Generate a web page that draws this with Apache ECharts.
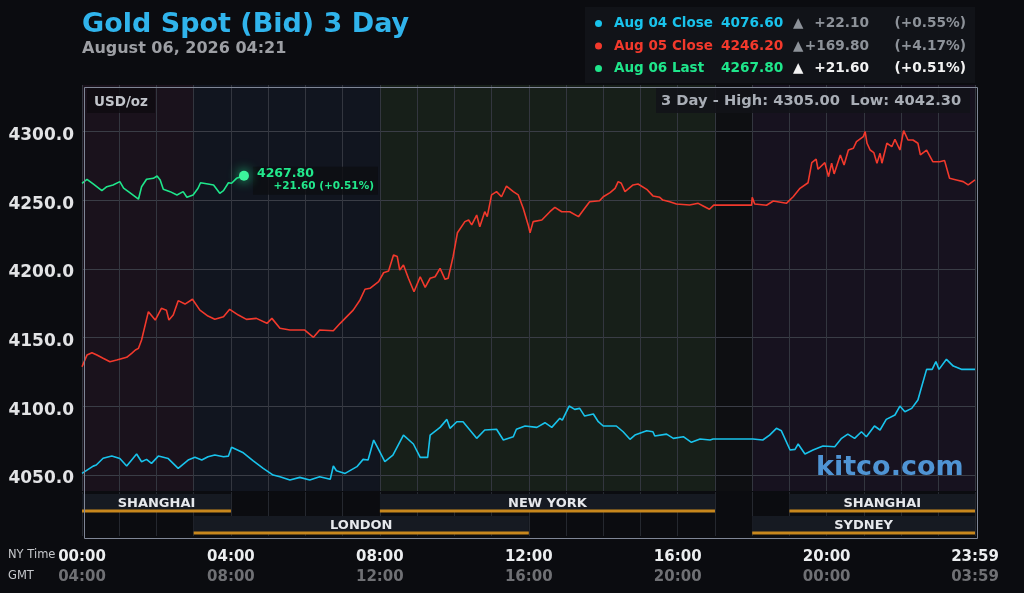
<!DOCTYPE html>
<html>
<head>
<meta charset="utf-8">
<title>Gold Spot (Bid) 3 Day</title>
<script src="https://cdn.jsdelivr.net/npm/echarts@6.0.0/dist/echarts.min.js"></script>
<style>
  html, body { margin: 0; padding: 0; background: #0b0c10; }
  #chart { width: 1024px; height: 593px; }
</style>
</head>
<body>
<div id="chart"></div>
<script>
// --- data (minutes after NY midnight, USD/oz) ---
const cyanMin = [0, 18, 23, 34, 48, 61, 72, 88, 96, 104, 112, 123, 139, 155, 171, 182, 193, 203, 214, 228, 236, 241, 260, 276, 292, 308, 319, 335, 351, 367, 383, 400, 405, 410, 424, 443, 453, 461, 470, 477, 488, 501, 518, 534, 545, 557, 561, 577, 588, 593, 604, 614, 625, 636, 649, 668, 679, 695, 700, 714, 733, 746, 757, 770, 774, 785, 794, 802, 810, 824, 832, 840, 861, 872, 883, 891, 910, 920, 923, 942, 953, 969, 982, 996, 1012, 1017, 1081, 1097, 1108, 1119, 1127, 1141, 1149, 1154, 1165, 1178, 1194, 1213, 1224, 1234, 1245, 1256, 1264, 1277, 1286, 1296, 1310, 1318, 1326, 1337, 1347, 1353, 1361, 1370, 1376, 1381, 1393, 1404, 1417, 1439];
const cyanVal = [4051.2, 4056.5, 4057.3, 4062.2, 4063.8, 4062.0, 4056.6, 4065.3, 4059.7, 4061.4, 4058.5, 4063.8, 4062.0, 4054.9, 4060.9, 4062.9, 4060.9, 4063.3, 4064.6, 4063.3, 4063.8, 4070.2, 4066.2, 4060.4, 4054.9, 4050.0, 4048.8, 4046.4, 4048.3, 4046.4, 4048.8, 4046.9, 4056.6, 4053.1, 4051.2, 4056.1, 4061.4, 4060.9, 4075.5, 4069.4, 4059.7, 4064.5, 4079.1, 4072.6, 4062.9, 4062.9, 4079.1, 4084.7, 4090.5, 4084.0, 4088.8, 4088.8, 4082.8, 4076.7, 4082.8, 4083.3, 4075.5, 4077.9, 4083.3, 4085.7, 4084.7, 4088.1, 4084.7, 4091.3, 4090.0, 4100.2, 4097.8, 4098.5, 4092.9, 4094.4, 4088.8, 4085.7, 4085.7, 4081.5, 4076.0, 4079.1, 4082.2, 4081.5, 4078.4, 4079.8, 4076.7, 4077.9, 4073.8, 4076.2, 4075.5, 4076.2, 4076.2, 4075.5, 4079.1, 4084.0, 4082.2, 4068.2, 4068.7, 4072.6, 4065.3, 4068.2, 4071.1, 4070.6, 4076.7, 4079.8, 4076.7, 4081.5, 4077.9, 4085.7, 4082.8, 4090.5, 4093.7, 4100.2, 4096.1, 4098.5, 4104.6, 4114.3, 4126.9, 4126.9, 4132.5, 4126.9, 4134.2, 4129.3, 4126.9, 4126.9];

const redMin = [0, 8, 16, 24, 34, 45, 56, 72, 80, 86, 91, 96, 107, 118, 128, 136, 140, 147, 155, 166, 178, 190, 203, 214, 228, 238, 252, 265, 281, 298, 306, 319, 335, 359, 373, 383, 405, 416, 437, 448, 456, 464, 478, 486, 494, 502, 508, 512, 518, 526, 535, 545, 553, 561, 569, 577, 585, 590, 598, 605, 617, 623, 628, 636, 641, 649, 653, 660, 668, 676, 684, 695, 703, 711, 719, 722, 727, 741, 754, 762, 773, 786, 800, 808, 818, 834, 840, 851, 859, 864, 869, 875, 888, 896, 910, 920, 931, 936, 947, 958, 979, 993, 1001, 1011, 1018, 1079, 1080, 1084, 1103, 1114, 1135, 1146, 1157, 1170, 1176, 1183, 1186, 1197, 1203, 1208, 1212, 1222, 1228, 1235, 1243, 1248, 1259, 1262, 1265, 1270, 1276, 1281, 1286, 1289, 1297, 1305, 1310, 1318, 1324, 1331, 1339, 1347, 1351, 1361, 1371, 1382, 1390, 1398, 1409, 1420, 1428, 1439];
const redVal = [4128.8, 4137.3, 4139.0, 4137.3, 4135.0, 4132.5, 4133.7, 4135.7, 4138.6, 4141.0, 4142.2, 4148.3, 4168.9, 4162.8, 4171.3, 4170.0, 4162.8, 4166.4, 4176.9, 4174.4, 4177.9, 4170.0, 4165.7, 4163.3, 4165.2, 4170.6, 4166.4, 4163.3, 4164.0, 4160.4, 4164.0, 4156.8, 4155.5, 4155.5, 4150.2, 4155.5, 4155.0, 4160.4, 4170.0, 4177.4, 4185.2, 4185.9, 4190.7, 4197.2, 4198.5, 4210.1, 4209.0, 4199.2, 4202.8, 4193.2, 4183.4, 4194.3, 4186.6, 4193.2, 4194.3, 4200.4, 4192.4, 4193.2, 4208.9, 4226.3, 4234.4, 4235.6, 4232.0, 4239.2, 4230.7, 4241.6, 4238.0, 4253.8, 4256.2, 4252.5, 4260.3, 4256.2, 4253.8, 4244.1, 4232.0, 4226.3, 4234.4, 4235.6, 4241.6, 4244.8, 4241.6, 4241.6, 4238.0, 4242.9, 4248.9, 4249.6, 4252.5, 4255.5, 4258.6, 4263.5, 4262.3, 4256.2, 4261.1, 4261.8, 4257.9, 4253.1, 4252.1, 4250.1, 4248.9, 4247.2, 4246.5, 4247.7, 4245.8, 4243.4, 4246.4, 4246.4, 4252.1, 4247.2, 4246.3, 4249.4, 4247.7, 4252.5, 4258.6, 4262.7, 4277.3, 4279.8, 4272.5, 4277.3, 4267.1, 4276.9, 4269.1, 4282.9, 4275.6, 4286.5, 4287.8, 4292.6, 4296.2, 4299.9, 4291.4, 4286.5, 4284.6, 4276.9, 4284.1, 4276.9, 4291.4, 4288.9, 4294.3, 4286.5, 4300.6, 4293.8, 4293.8, 4291.4, 4282.9, 4286.5, 4278.0, 4278.0, 4278.8, 4265.9, 4264.7, 4263.5, 4261.1, 4264.7];

const greenMin = [0, 8, 18, 32, 40, 50, 61, 67, 77, 91, 96, 104, 115, 121, 126, 131, 142, 153, 163, 169, 179, 187, 191, 203, 212, 222, 228, 236, 241, 249, 261];
const greenVal = [4262.3, 4265.2, 4261.8, 4256.9, 4259.8, 4261.1, 4263.5, 4258.7, 4255.5, 4250.7, 4259.8, 4265.2, 4265.9, 4267.6, 4264.7, 4257.9, 4256.2, 4253.8, 4256.2, 4252.1, 4253.8, 4258.7, 4262.7, 4261.8, 4261.1, 4255.0, 4256.9, 4262.7, 4262.3, 4265.9, 4267.8];

const seriesNames = ['Aug 04 Close', 'Aug 05 Close', 'Aug 06 Last'];
const closeValues = ['4076.60', '4246.20', '4267.80'];
const changeValues = ['+22.10', '+169.80', '+21.60'];
const changePcts = ['(+0.55%)', '(+4.17%)', '(+0.51%)'];

const yTicks = [4050, 4100, 4150, 4200, 4250, 4300];
const tickMinutes = [0, 240, 480, 720, 960, 1200, 1439];
const nyLabels = ['00:00', '04:00', '08:00', '12:00', '16:00', '20:00', '23:59'];
const gmtLabels = ['04:00', '08:00', '12:00', '16:00', '20:00', '00:00', '03:59'];

// background market-hour bands (minutes)
const bandStart = [0, 180, 480, 1020, 1080];
const bandEnd = [180, 480, 1020, 1080, 1439];

// trading sessions (minutes, row)
const sessionNames = ['SHANGHAI', 'LONDON', 'NEW YORK', 'SHANGHAI', 'SYDNEY'];
const sessionStart = [0, 180, 480, 1140, 1080];
const sessionEnd = [240, 720, 1020, 1439, 1439];
const sessionRow = [0, 1, 0, 0, 1];

// --- styles ---
const FONT = 'DejaVu Sans';
const lineColors = ['#19c3ec', '#f2392c', '#1fe68b'];
const bandColors = ['#1a121c', '#11151f', '#171f19', '#0e0f12', '#17121f'];
const yMin = 4038.4, yMax = 4333.8;

const chart = echarts.init(document.getElementById('chart'));

function pairs(xs, ys) { return xs.map((x, i) => [x, ys[i]]); }

function renderBand(params, api) {
  const p0 = api.coord([api.value(0), yMax]);
  const p1 = api.coord([api.value(1), yMin]);
  return {
    type: 'rect',
    shape: { x: p0[0], y: p0[1], width: p1[0] - p0[0], height: p1[1] - p0[1] },
    style: { fill: bandColors[params.dataIndex] }
  };
}

function renderSession(params, api) {
  const row = api.value(2);
  const s = api.coord([api.value(0), row]);
  const e = api.coord([api.value(1), row + 1]);
  const top = s[1];
  return {
    type: 'group',
    children: [
      { type: 'rect', shape: { x: s[0], y: top + 2, width: e[0] - s[0], height: 16 }, style: { fill: '#161a22' } },
      { type: 'rect', shape: { x: s[0], y: top + 17.5, width: e[0] - s[0], height: 3 }, style: { fill: '#c8871d' } },
      {
        type: 'text', x: (s[0] + e[0]) / 2, y: top + 12,
        style: { text: sessionNames[params.dataIndex], fill: '#e6e8ec', font: 'bold 13px "DejaVu Sans"', align: 'center', verticalAlign: 'middle' }
      }
    ]
  };
}

const legendRich = {
  n: { width: 107, padding: [0, 0, 0, 7], fontFamily: FONT, fontWeight: 'bold', fontSize: 13.5, lineHeight: 15.5 },
  v: { width: 72, fontFamily: FONT, fontWeight: 'bold', fontSize: 13.7, lineHeight: 15.5 },
  t: { width: 14, color: '#8d9299', fontFamily: FONT, fontSize: 13.5, lineHeight: 15.5 },
  c: { width: 62, align: 'right', color: '#8d9299', fontFamily: FONT, fontWeight: 'bold', fontSize: 13.7, lineHeight: 15.5 },
  p: { width: 97, align: 'right', color: '#8d9299', fontFamily: FONT, fontWeight: 'bold', fontSize: 13.7, lineHeight: 15.5 },
  tw: { width: 14, color: '#f2f2f2', fontFamily: FONT, fontSize: 13.5, lineHeight: 15.5 },
  cw: { width: 62, align: 'right', color: '#f2f2f2', fontFamily: FONT, fontWeight: 'bold', fontSize: 13.7, lineHeight: 15.5 },
  pw: { width: 97, align: 'right', color: '#f2f2f2', fontFamily: FONT, fontWeight: 'bold', fontSize: 13.7, lineHeight: 15.5 }
};

const lastGreen = [greenMin[greenMin.length - 1], greenVal[greenVal.length - 1]];

const option = {
  backgroundColor: '#0b0c10',
  animation: false,
  textStyle: { fontFamily: FONT },
  title: {
    text: 'Gold Spot (Bid) 3 Day',
    subtext: 'August 06, 2026 04:21',
    left: 82, top: 11, padding: 0, itemGap: 3,
    textStyle: { color: '#30b4ec', fontSize: 27, fontWeight: 'bold', fontFamily: FONT },
    subtextStyle: { color: '#9d9fa4', fontSize: 16, fontWeight: 'bold', fontFamily: FONT }
  },
  legend: {
    orient: 'vertical', left: 585, top: 7, padding: [9.5, 9, 7.5, 10],
    itemGap: 8.5, itemWidth: 7, itemHeight: 7, icon: 'circle', selectedMode: false,
    backgroundColor: '#111318',
    data: seriesNames.map((n, i) => ({ name: n, textStyle: { color: lineColors[i] } })),
    textStyle: { fontFamily: FONT, fontWeight: 'bold', fontSize: 13.5, rich: legendRich },
    formatter: function (name) {
      const i = seriesNames.indexOf(name);
      const w = i === 2 ? 'w' : '';
      return '{n|' + name + '}{v|' + closeValues[i] + '}{t' + w + '|▲}{c' + w + '|' + changeValues[i] + '}{p' + w + '|' + changePcts[i] + '}';
    }
  },
  grid: [
    { left: 82, right: 49, top: 85, height: 406 },
    { left: 82, right: 49, top: 492, height: 44 }
  ],
  xAxis: [
    {
      gridIndex: 0, type: 'value', min: 0, max: 1439, interval: 60, z: 2,
      axisLine: { show: false }, axisTick: { show: false }, axisLabel: { show: false },
      splitLine: { show: true, lineStyle: { color: '#33363f', width: 1 } }
    },
    {
      gridIndex: 1, type: 'value', min: 0, max: 1439, interval: 60, z: 2,
      axisLine: { show: false }, axisTick: { show: false },
      splitLine: { show: true, lineStyle: { color: '#25282f', width: 1 } },
      axisLabel: {
        margin: 11,
        formatter: function (v) {
          const i = tickMinutes.indexOf(v);
          if (i < 0) return '';
          return '{ny|' + nyLabels[i] + '}\n{gmt|' + gmtLabels[i] + '}';
        },
        rich: {
          ny: { color: '#eceef0', fontFamily: FONT, fontWeight: 'bold', fontSize: 15, lineHeight: 20 },
          gmt: { color: '#6f7074', fontFamily: FONT, fontWeight: 'bold', fontSize: 15, lineHeight: 20 }
        }
      }
    }
  ],
  yAxis: [
    {
      gridIndex: 0, type: 'value', min: yMin, max: yMax, splitNumber: 6, z: 2,
      axisLine: { show: false },
      axisTick: { show: false, customValues: yTicks },
      splitLine: { show: true, lineStyle: { color: '#3a3d46', width: 1 } },
      axisLabel: {
        customValues: yTicks, margin: 8, verticalAlign: 'top', lineHeight: 8,
        color: '#e2e3e5', fontFamily: FONT, fontWeight: 'bold', fontSize: 17,
        formatter: v => v.toFixed(1)
      }
    },
    {
      gridIndex: 1, type: 'value', min: 0, max: 2, inverse: true,
      axisLine: { show: false }, axisTick: { show: false }, axisLabel: { show: false }, splitLine: { show: false }
    }
  ],
  graphic: [
    { type: 'rect', left: 87, top: 87, z: 10, silent: true, shape: { width: 68, height: 26 }, style: { fill: 'rgba(14,11,16,0.8)' } },
    { type: 'text', left: 94, top: 95, z: 11, silent: true, style: { text: 'USD/oz', fill: '#c2c5cb', font: 'bold 13.5px "DejaVu Sans"' } },
    { type: 'rect', left: 656, top: 87, z: 10, silent: true, shape: { width: 314, height: 26 }, style: { fill: 'rgba(18,19,24,0.9)' } },
    { type: 'text', left: 661, top: 94, z: 11, silent: true, style: { text: '3 Day - High: 4305.00  Low: 4042.30', fill: '#a9aeb6', font: 'bold 14.7px "DejaVu Sans"' } },
    { type: 'text', left: 816, top: 454, z: 11, silent: true, style: { text: 'kitco.com', fill: '#4f94d4', font: 'bold 27px "DejaVu Sans"' } },
    { type: 'text', left: 8, top: 549, silent: true, style: { text: 'NY Time', fill: '#c6c8cc', font: '11.5px "DejaVu Sans"' } },
    { type: 'text', left: 8, top: 570, silent: true, style: { text: 'GMT', fill: '#c6c8cc', font: '11.5px "DejaVu Sans"' } },
    { type: 'rect', left: 82, top: 85, z: 20, silent: true, shape: { width: 893, height: 451 }, style: { fill: 'none', stroke: '#7f8696', lineWidth: 1 } }
  ],
  series: [
    {
      type: 'custom', name: 'bands', xAxisIndex: 0, yAxisIndex: 0, z: 1, silent: true,
      renderItem: renderBand, encode: { x: [0, 1] },
      data: bandStart.map((s, i) => [s, bandEnd[i]])
    },
    {
      type: 'custom', name: 'sessions', xAxisIndex: 1, yAxisIndex: 1, z: 3, silent: true,
      renderItem: renderSession, encode: { x: [0, 1], y: 2 },
      data: sessionStart.map((s, i) => [s, sessionEnd[i], sessionRow[i]])
    },
    {
      name: seriesNames[0], type: 'line', xAxisIndex: 0, yAxisIndex: 0, z: 3,
      showSymbol: false, color: lineColors[0], lineStyle: { width: 1.6 },
      data: pairs(cyanMin, cyanVal)
    },
    {
      name: seriesNames[1], type: 'line', xAxisIndex: 0, yAxisIndex: 0, z: 3,
      showSymbol: false, color: lineColors[1], lineStyle: { width: 1.6 },
      data: pairs(redMin, redVal)
    },
    {
      name: seriesNames[2], type: 'line', xAxisIndex: 0, yAxisIndex: 0, z: 4,
      showSymbol: false, color: lineColors[2], lineStyle: { width: 1.6 },
      data: pairs(greenMin, greenVal),
      endLabel: {
        show: true, distance: 9, offset: [0, 5], width: 117,
        backgroundColor: 'rgba(12,14,18,0.8)', padding: [1, 4, 2, 4],
        formatter: () => '{a|' + closeValues[2] + '}\n{b|' + changeValues[2] + ' ' + changePcts[2] + '}',
        rich: {
          a: { color: '#22e88c', fontFamily: FONT, fontWeight: 'bold', fontSize: 12.5, lineHeight: 13 },
          b: { color: '#22e88c', fontFamily: FONT, fontWeight: 'bold', fontSize: 10.5, lineHeight: 12, align: 'right' }
        }
      },
      markPoint: {
        silent: true, symbol: 'circle', symbolSize: 10,
        itemStyle: { color: '#3cf59c', shadowBlur: 12, shadowColor: '#1fe68b' },
        label: { show: false },
        data: [{ coord: lastGreen }]
      }
    }
  ]
};

chart.setOption(option);
</script>
</body>
</html>
